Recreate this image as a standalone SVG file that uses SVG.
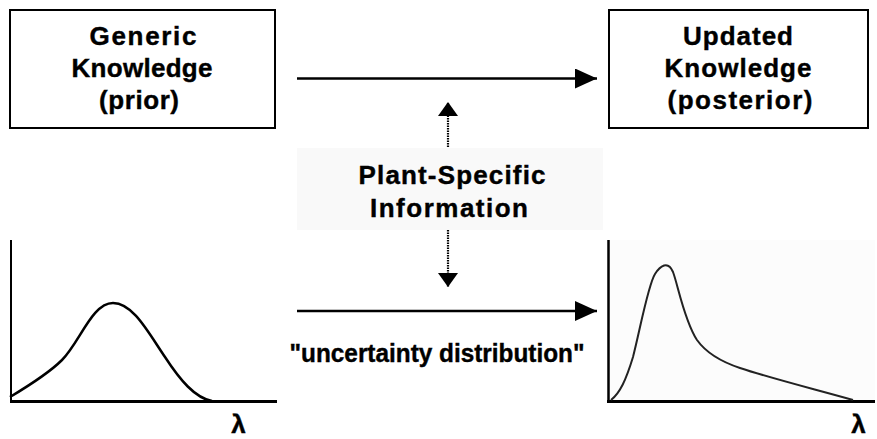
<svg xmlns="http://www.w3.org/2000/svg" width="877" height="439" viewBox="0 0 877 439">
<defs>
<style>
.box{fill:#fff;stroke:#000;stroke-width:2}
.t{font-family:"Liberation Sans",Arial,sans-serif;font-weight:bold;font-size:26px;fill:#000;text-anchor:middle;stroke:#000;stroke-width:0.4}
.arr{stroke:#000;stroke-width:2.5;fill:none}
.dot{stroke:#000;stroke-width:2.2;stroke-dasharray:1.5 1;fill:none}
.axis{stroke:#000;fill:none}
</style>
<marker id="ah" viewBox="0 0 22 20" refX="22" refY="10" markerWidth="22" markerHeight="20" markerUnits="userSpaceOnUse" orient="auto">
<path d="M0,0 L22,10 L0,20 Z" fill="#000"/>
</marker>
<marker id="ahs" viewBox="0 0 14 20" refX="14" refY="10" markerWidth="14" markerHeight="20" markerUnits="userSpaceOnUse" orient="auto">
<path d="M0,0 L14,10 L0,20 Z" fill="#000"/>
</marker>
</defs>
<rect width="877" height="439" fill="#fff"/>

<g id="prior">
<rect class="box" x="10" y="10" width="265" height="118"/>
<text class="t" x="143" y="45" textLength="107">Generic</text>
<text class="t" x="142" y="77" textLength="141">Knowledge</text>
<text class="t" x="139" y="109" textLength="80">(prior)</text>
</g>

<g id="posterior">
<rect class="box" x="609" y="10" width="259" height="118"/>
<text class="t" x="738" y="45" textLength="110">Updated</text>
<text class="t" x="738" y="77" textLength="147">Knowledge</text>
<text class="t" x="740" y="109" textLength="145">(posterior)</text>
</g>

<g id="info">
<rect x="297" y="148" width="306" height="82" fill="#f9f9f9"/>
<text class="t" x="452" y="184" textLength="187">Plant-Specific</text>
<text class="t" x="449" y="217" textLength="158">Information</text>
</g>

<g id="prior-dist">
<path class="axis" d="M11,240 V402" stroke-width="2"/>
<path class="axis" d="M10,401.5 H277" stroke-width="3"/>
<path d="M10,397 C35,382 50,372 62,360 C80,342 92,303 113,303 C133,303 148,332 165,357 C180,380 195,398 212,401" fill="none" stroke="#000" stroke-width="2.5"/>
<text class="t" x="238.5" y="433" font-size="23">λ</text>
</g>

<g id="posterior-dist">
<rect x="610" y="240" width="265" height="160" fill="#fcfcfc"/>
<path class="axis" d="M608.5,240 V402" stroke-width="2.5"/>
<path class="axis" d="M607,401.5 H875" stroke-width="3"/>
<path d="M611,400 C620,393 626,380 633,357 C640,330 648,285 655,274 C660,266 668,260 673,272 C678,285 684,320 697,340 C707,354 725,363 740,368 C770,378 810,388 853,400" fill="none" stroke="#222" stroke-width="2"/>
<text class="t" x="858.5" y="433" font-size="23">λ</text>
</g>

<g id="connectors">
<path class="arr" d="M297,78.5 H597" marker-end="url(#ah)"/>
<path class="arr" d="M297,311 H597" marker-end="url(#ah)"/>
<path class="dot" d="M448,147 V102" marker-end="url(#ahs)"/>
<path class="dot" d="M448,230 V287" marker-end="url(#ahs)"/>
</g>

<text class="t" x="437" y="362" font-size="24" textLength="295" lengthAdjust="spacingAndGlyphs">"uncertainty distribution"</text>
</svg>
